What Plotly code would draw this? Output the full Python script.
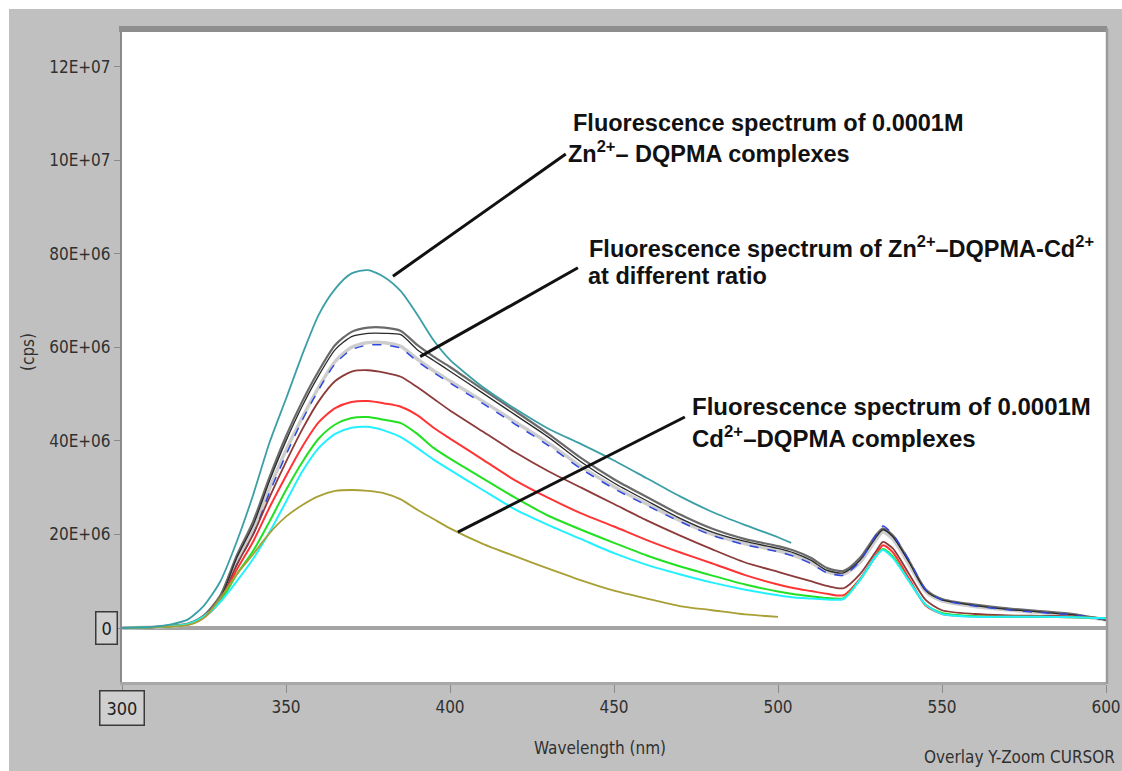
import plotly.graph_objects as go

# ---------------- data (intensity in units of 1E+06 cps) ----------------
wl_zn = [300, 310, 315, 320, 325, 330, 335, 340, 345, 350, 355, 360, 365, 370, 375, 380,
         385, 390, 395, 400, 405, 410, 420, 430, 440, 450, 460, 470, 480, 490, 500, 504]
zn_complex = [0, 0.3, 0.8, 1.8, 4.8, 10, 18.5, 28.5, 39.7, 49, 58.5, 67, 72.5, 75.8, 76.5, 75,
              72, 67, 61.5, 57.3, 54.3, 51.5, 46.8, 42.6, 39.3, 35.8, 32, 28.2, 24.8, 22, 19.4, 18.2]

wl_cd = [300, 310, 320, 325, 330, 335, 340, 345, 350, 355, 360, 365, 370, 375, 380, 385,
         390, 395, 400, 410, 420, 430, 440, 450, 460, 470, 480, 490, 500]
cd_complex = [0, 0.2, 0.6, 2.2, 6.4, 11.5, 15.8, 20.3, 23.8, 26.3, 28.2, 29.3, 29.5, 29.3, 28.8, 27.5,
              25.3, 23.3, 21.3, 18, 15.3, 12.7, 10.2, 8, 6.3, 4.7, 3.8, 2.9, 2.4]

wl_mix = [300, 310, 320, 325, 330, 335, 340, 345, 350, 355, 360, 365, 370, 375, 380, 385, 390, 395,
          400, 410, 420, 430, 440, 450, 460, 470, 480, 490, 500, 505, 510, 515, 520, 525, 530, 532,
          535, 540, 545, 550, 560, 570, 580, 590, 600]
mix_gray_light = [0, 0.2, 0.8, 2.4, 6, 14, 20.8, 29.8, 38, 45, 51.5, 57, 60, 61, 61, 60.2, 57.5, 55,
                  52.8, 48.5, 44, 39.5, 34.5, 30.2, 26.5, 23, 20, 18, 16.5, 15.5, 14, 12, 11.5, 14, 19, 20.5,
                  19, 13.5, 7.8, 5.8, 4.6, 3.9, 3.3, 2.7, 1.7]
mix_gray_dark = [0, 0.2, 0.9, 2.7, 7, 15.5, 22.8, 32.3, 41, 48.5, 55, 60.5, 63.3, 64.2, 64.2, 63.5, 60.5, 58,
                 55.8, 51, 46.3, 41.5, 36.3, 31.8, 28, 24.3, 21.2, 19, 17.5, 16.5, 15, 12.8, 12.2, 15, 20, 21.3,
                 19.8, 14.3, 8.3, 6.2, 5, 4.2, 3.6, 3, 1.8]
mix_black = [0, 0.2, 0.8, 2.5, 6.4, 15, 22, 31.5, 40, 47.5, 54, 59.5, 62.3, 63, 63, 62.7, 59.5, 57.2,
             54.9, 50.2, 45.5, 40.8, 35.5, 31, 27.2, 23.5, 20.5, 18.5, 17, 16, 14.5, 12.3, 11.8, 14.5, 19.5, 21,
             19.5, 14, 8, 6, 4.8, 4, 3.4, 2.8, 1.7]
mix_blue = [0, 0.2, 0.8, 2.3, 5.8, 13.5, 20, 29, 37, 44.5, 51, 56.5, 59.5, 60.5, 60.5, 59.8, 57, 54.6,
            52.4, 48, 43.5, 39, 34, 29.8, 26.2, 22.8, 19.8, 17.8, 16.3, 15.3, 13.8, 11.8, 11.3, 14.3, 20, 21.8,
            20, 14.5, 8.2, 6, 4.7, 3.9, 3.3, 2.8, 1.8]
mix_brown = [0, 0.2, 0.8, 2.4, 6, 13.5, 20, 28, 35.5, 42.5, 48.5, 52.8, 54.8, 55.1, 54.6, 53.7, 51.5, 49,
             46.5, 42, 37.5, 33.5, 30, 26.5, 23, 19.8, 16.8, 14, 12, 11, 10, 9, 8.5, 11.5, 16.5, 18.4,
             17, 11.5, 6, 3.8, 3, 2.7, 2.6, 2.5, 2.1]
mix_red = [0, 0.2, 0.8, 2.3, 5.8, 12.5, 18.5, 25.8, 32.5, 38.8, 44, 47, 48.3, 48.5, 48, 47.3, 45.5, 42.8,
           40.5, 36, 31.5, 27.8, 24.5, 21.7, 18.8, 16.2, 13.8, 11.3, 9.3, 8.5, 7.9, 7.3, 7, 10.5, 15.8, 17.7,
           16.2, 10.5, 4.8, 3, 2.5, 2.4, 2.4, 2.3, 2.1]
mix_green = [0, 0.2, 0.8, 2.4, 5.7, 11.5, 16.5, 22.8, 29.5, 35.5, 40.5, 43.5, 44.9, 45.1, 44.5, 43.8, 41.5, 38.5,
             36.2, 32, 27.8, 24, 21, 18.2, 15.5, 13.2, 11.2, 9.3, 7.8, 7.2, 6.8, 6.4, 6.4, 10.3, 15.5, 16.9,
             15.3, 10, 5, 3.2, 2.5, 2.4, 2.4, 2.3, 2.1]
mix_cyan = [0, 0.2, 0.8, 2.5, 5.6, 10, 14.8, 20.5, 27, 33.5, 38.5, 41.5, 42.8, 43, 42.2, 40.8, 38.5, 36,
            33.8, 29.5, 25.3, 22, 19, 16, 13.5, 11.5, 9.7, 8.2, 7, 6.5, 6.3, 6.1, 6.2, 10.3, 15.5, 16.7,
            15, 10, 5, 3, 2.4, 2.4, 2.4, 2.3, 2.1]

y_tickvals = [0, 20, 40, 60, 80, 100, 120]
y_ticktext = ["", "20E+06", "40E+06", "60E+06", "80E+06", "10E+07", "12E+07"]
x_tickvals = [300, 350, 400, 450, 500, 550, 600]
x_ticktext = ["", "350", "400", "450", "500", "550", "600"]

# ---------------- figure ----------------
AXFONT = "Liberation Sans Narrow, DejaVu Sans Condensed, Arial Narrow, sans-serif"
TXTFONT = "Liberation Sans, Arial, sans-serif"
AXSIZE = 17

fig = go.Figure()

series = [
    (wl_mix, mix_gray_light, "#cdcdcd", 3.5, "solid"),
    (wl_mix, mix_gray_dark, "#6a6a6a", 2.2, "solid"),
    (wl_mix, mix_black, "#2a2a2a", 1.3, "solid"),
    (wl_mix, mix_blue, "#3048e0", 1.5, "dash"),
    (wl_mix, mix_brown, "#8c3a3a", 1.8, "solid"),
    (wl_mix, mix_red, "#ff3434", 2.0, "solid"),
    (wl_mix, mix_green, "#22e022", 2.0, "solid"),
    (wl_mix, mix_cyan, "#22f0ff", 2.0, "solid"),
    (wl_cd, cd_complex, "#a8a034", 1.8, "solid"),
    (wl_zn, zn_complex, "#3c9ea6", 1.8, "solid"),
]
for xs, ys, col, w, dash in series:
    fig.add_trace(go.Scatter(x=xs, y=ys, mode="lines",
                             line=dict(color=col, width=w, dash=dash, shape="spline", smoothing=0.7),
                             hoverinfo="skip", showlegend=False))

PLOT_L, PLOT_R, PLOT_T, PLOT_B = 122, 1106, 32, 682
W, H = 1122, 771
pw, ph = PLOT_R - PLOT_L, PLOT_B - PLOT_T


def px(x):
    return (x - PLOT_L) / pw


def py(y):
    return (PLOT_B - y) / ph


shapes = [
    # white outer border (top & left)
    dict(type="rect", xref="paper", yref="paper", x0=px(0), x1=px(W), y0=py(9), y1=py(0),
         fillcolor="white", line=dict(width=0), layer="below"),
    dict(type="rect", xref="paper", yref="paper", x0=px(0), x1=px(9), y0=py(H), y1=py(0),
         fillcolor="white", line=dict(width=0), layer="below"),
    # top dark band of the plot frame
    dict(type="rect", xref="paper", yref="paper", x0=px(119), x1=px(1107), y0=py(32), y1=py(26),
         fillcolor="#8e8e8e", line=dict(width=0), layer="above"),
    # right border
    dict(type="line", xref="paper", yref="paper", x0=px(1107), x1=px(1107), y0=py(684), y1=py(28),
         line=dict(color="#9a9a9a", width=2.5), layer="above"),
]

# pointer lines (from the curve to the label)
pointers = [
    (382.6, 75.2, 435.3, 101.3),
    (390.9, 58.0, 439.0, 77.0),
    (402.4, 20.5, 471.6, 45.1),
]
for x0, y0, x1, y1 in pointers:
    shapes.append(dict(type="line", xref="x", yref="y", x0=x0, y0=y0, x1=x1, y1=y1,
                       line=dict(color="#111111", width=3), layer="above"))

annotations = [
    # boxed origin labels
    dict(text="0", xref="paper", yref="y", x=px(106), y=0, showarrow=False,
         font=dict(family=AXFONT, size=AXSIZE + 1, color="#202020"),
         bordercolor="#3a3a3a", borderwidth=1.5, borderpad=5, bgcolor="#cfcfcf",
         xanchor="center", yanchor="middle"),
    dict(text="300", xref="x", yref="paper", x=300, y=py(708), showarrow=False,
         font=dict(family=AXFONT, size=AXSIZE + 1, color="#202020"),
         bordercolor="#3a3a3a", borderwidth=1.5, borderpad=6, bgcolor="#cfcfcf",
         xanchor="center", yanchor="middle"),
    # axis titles
    dict(text="Wavelength (nm)", xref="paper", yref="paper", x=px(600), y=py(748), showarrow=False,
         font=dict(family=AXFONT, size=AXSIZE, color="#303030"), xanchor="center", yanchor="middle"),
    dict(text="(cps)", xref="paper", yref="paper", x=px(28), y=py(352), showarrow=False, textangle=-90,
         font=dict(family=AXFONT, size=AXSIZE, color="#303030"), xanchor="center", yanchor="middle"),
    dict(text="Overlay Y-Zoom CURSOR", xref="paper", yref="paper", x=px(1117), y=py(757), showarrow=False,
         font=dict(family=AXFONT, size=AXSIZE, color="#303030"), xanchor="right", yanchor="middle"),
]

labels = [
    ("Fluorescence spectrum of 0.0001M", 571, 123, 23.5),
    ("Zn<sup>2+</sup>\u2013 DQPMA complexes", 566, 152, 23.5),
    ("Fluorescence spectrum of Zn<sup>2+</sup>\u2013DQPMA-Cd<sup>2+</sup>", 587, 247, 23.5),
    ("at different ratio", 586, 276, 23.5),
    ("Fluorescence spectrum of 0.0001M", 690, 407, 24),
    ("Cd<sup>2+</sup>\u2013DQPMA complexes", 690, 437, 24),
]
for t, lx, ly, fs in labels:
    annotations.append(dict(text="<b>" + t + "</b>", xref="paper", yref="paper", x=px(lx), y=py(ly),
                            showarrow=False, xanchor="left", yanchor="middle", align="left",
                            font=dict(family=TXTFONT, size=fs, color="#111111")))

fig.update_layout(
    width=W, height=H, autosize=False,
    margin=dict(l=PLOT_L, r=W - PLOT_R, t=PLOT_T, b=H - PLOT_B, pad=0, autoexpand=False),
    paper_bgcolor="#c0c0c0", plot_bgcolor="white",
    showlegend=False,
    shapes=shapes, annotations=annotations,
    xaxis=dict(range=[300, 600], tickvals=x_tickvals, ticktext=x_ticktext,
               showgrid=False, zeroline=False, showline=True, linecolor="#a8a8a8", linewidth=3,
               ticks="outside", ticklen=8, tickcolor="#8a8a8a", tickwidth=1,
               ticklabeloverflow="allow", automargin=False,
               tickfont=dict(family=AXFONT, size=AXSIZE, color="#303030")),
    yaxis=dict(range=[-11.54, 127.4], tickvals=y_tickvals, ticktext=y_ticktext,
               showgrid=False, zeroline=True, zerolinecolor="#a4a4a4", zerolinewidth=4,
               showline=True, linecolor="#8a8a8a", linewidth=2, automargin=False,
               ticks="outside", ticklen=6, tickcolor="#8a8a8a", tickwidth=1,
               tickfont=dict(family=AXFONT, size=AXSIZE, color="#303030")),
)

fig.write_html("out.html")
